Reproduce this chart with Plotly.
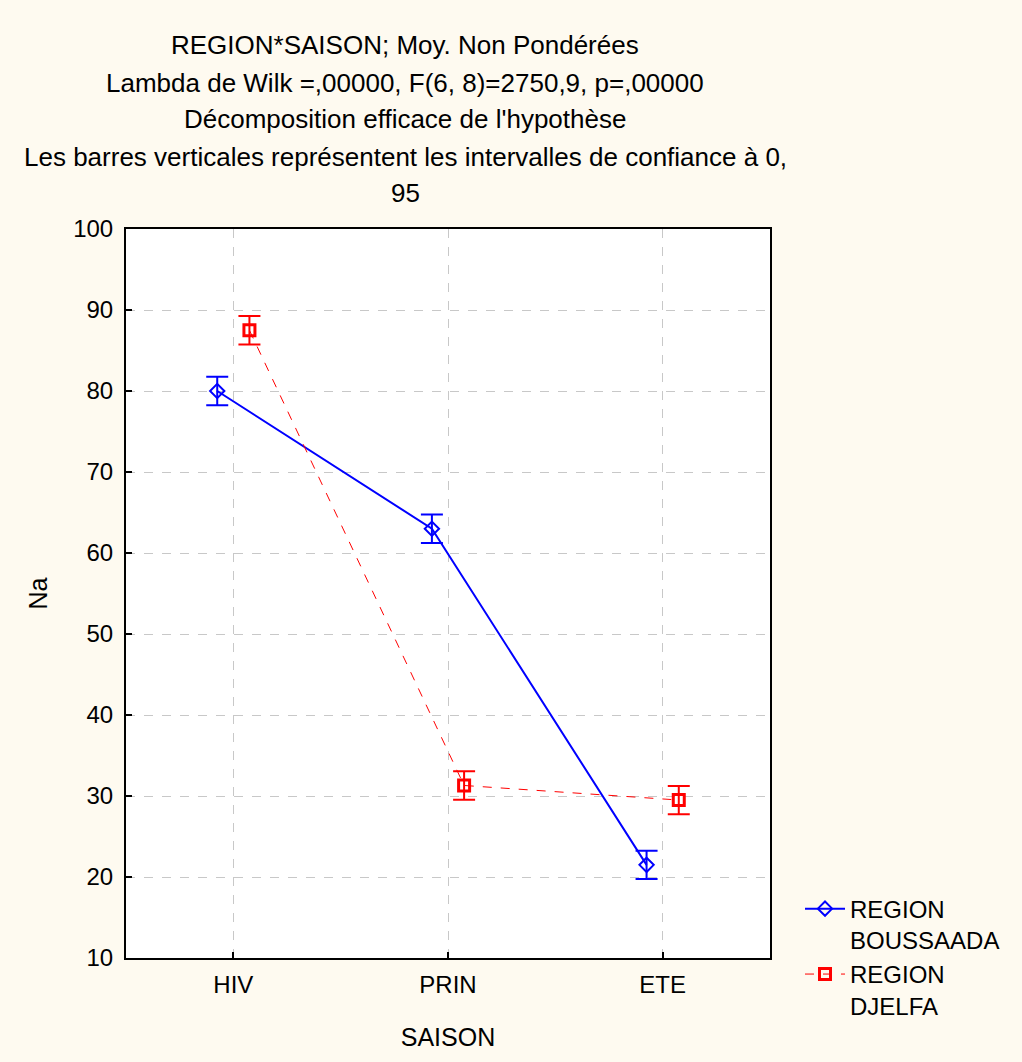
import plotly.graph_objects as go

seasons = ["HIV", "PRIN", "ETE"]
boussaada = [80.0, 63.0, 21.5]
boussaada_ci = [1.75, 1.75, 1.75]
djelfa = [87.5, 31.3, 29.5]
djelfa_ci = [1.75, 1.75, 1.75]
yticks = [10, 20, 30, 40, 50, 60, 70, 80, 90, 100]
title_lines = [
    "REGION*SAISON; Moy. Non Pondérées",
    "Lambda de Wilk =,00000, F(6, 8)=2750,9, p=,00000",
    "Décomposition efficace de l'hypothèse",
    "Les barres verticales représentent les intervalles de confiance à 0,",
    "95",
]

offset = 0.075
xpos = list(range(len(seasons)))
FONT = "Liberation Sans, Arial, sans-serif"

fig = go.Figure()
fig.add_trace(go.Scatter(
    x=[x - offset for x in xpos], y=boussaada,
    mode="lines+markers", name="REGION<br>BOUSSAADA",
    line=dict(color="#0000FF", width=2),
    marker=dict(symbol="diamond-open", size=11, color="#0000FF", line=dict(width=2)),
    error_y=dict(type="data", array=boussaada_ci, color="#0000FF", thickness=2, width=11),
))
fig.add_trace(go.Scatter(
    x=[x + offset for x in xpos], y=djelfa,
    mode="lines+markers", name="REGION<br>DJELFA",
    line=dict(color="#FF0000", width=1, dash="dash"),
    marker=dict(symbol="square-open", size=11, color="#FF0000", line=dict(width=3)),
    error_y=dict(type="data", array=djelfa_ci, color="#FF0000", thickness=2, width=11),
))

ys = [45, 83, 119, 157, 193]
for txt, y in zip(title_lines, ys):
    fig.add_annotation(text=txt, xref="paper", yref="paper",
                       x=(405 - 126) / 644, y=1 - (y - 229) / 729,
                       showarrow=False, xanchor="center", yanchor="middle",
                       font=dict(size=26, color="black", family=FONT))

fig.update_layout(
    width=1022, height=1062,
    margin=dict(l=126, r=252, t=229, b=104),
    paper_bgcolor="#FEFAF0", plot_bgcolor="white",
    font=dict(family=FONT, size=24, color="black"),
    showlegend=True,
    legend=dict(x=1.0466, y=0.098, xanchor="left", yanchor="top",
                bgcolor="rgba(0,0,0,0)", font=dict(size=24), valign="top",
                itemwidth=40, tracegroupgap=0),
)
fig.update_xaxes(
    range=[-0.5, 2.5], tickvals=xpos, ticktext=seasons,
    showline=True, linecolor="black", linewidth=2, mirror=True,
    ticks="inside", ticklen=6, tickcolor="black", tickwidth=2,
    showgrid=True, gridcolor="#C8C8C8", griddash="dash", gridwidth=1,
    zeroline=False, tickfont=dict(size=24), ticklabelstandoff=4,
    title=dict(text="SAISON", font=dict(size=25), standoff=32),
)
fig.update_yaxes(
    range=[10, 100], tickvals=yticks,
    showline=True, linecolor="black", linewidth=2, mirror=True,
    ticks="inside", ticklen=6, tickcolor="black", tickwidth=2,
    showgrid=True, gridcolor="#C8C8C8", griddash="dash", gridwidth=1,
    zeroline=False, tickfont=dict(size=24), ticklabelstandoff=6,
    title=dict(text="Na", font=dict(size=25), standoff=18),
)

fig.write_html("out.html")
